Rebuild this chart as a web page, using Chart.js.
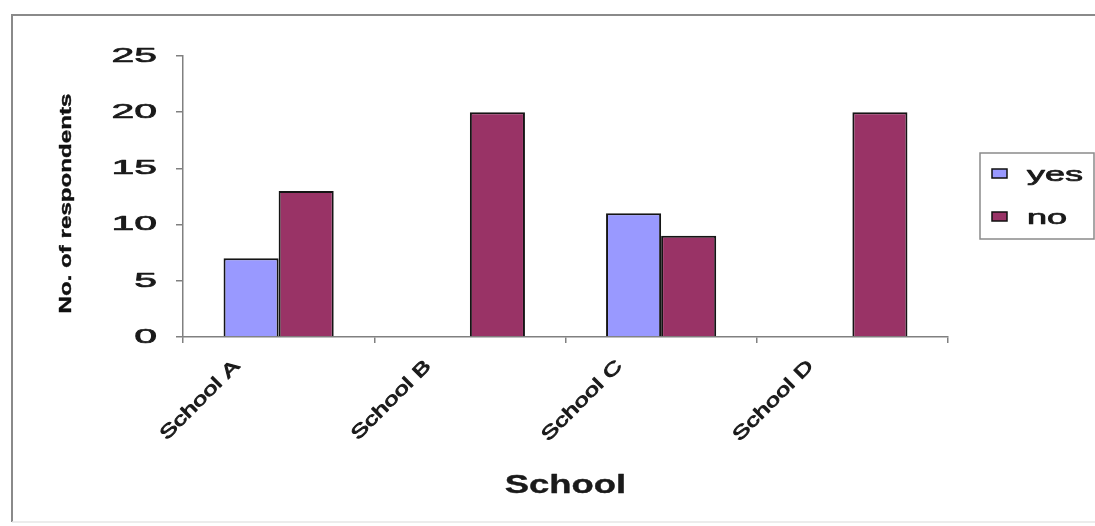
<!DOCTYPE html>
<html>
<head>
<meta charset="utf-8">
<script src="https://cdn.jsdelivr.net/npm/chart.js@4.4.0/dist/chart.umd.min.js"></script>
<style>
  html, body { margin: 0; padding: 0; background: #fff; }
  #wrap { width: 1095px; height: 526px; position: relative; }
</style>
</head>
<body>
<div id="wrap"><canvas id="c" width="1095" height="526"></canvas></div>
<script>
const categories = ["School A", "School B", "School C", "School D"];
const yesValues = [7, 0, 11, 0];
const noValues = [13, 20, 9, 20];
const seriesNames = ["yes", "no"];
const yTitle = "No. of respondents";
const xTitle = "School";

const FONT = '"Liberation Sans", Arial, sans-serif';

function stretchedText(ctx, text, x, y, angle, sx, font, align, baseline, color, thick) {
  ctx.save();
  ctx.translate(x, y);
  ctx.rotate(angle);
  ctx.scale(sx, 1);
  ctx.font = font;
  ctx.textAlign = align;
  ctx.textBaseline = baseline;
  ctx.fillStyle = color || '#111';
  ctx.fillText(text, 0, 0);
  if (thick) {
    ctx.strokeStyle = color || '#111';
    ctx.lineWidth = thick;
    ctx.lineJoin = 'round';
    ctx.strokeText(text, 0, 0);
  }
  ctx.restore();
}

const framePlugin = {
  id: 'frame',
  beforeDraw(chart) {
    const ctx = chart.ctx;
    ctx.save();
    ctx.fillStyle = '#fff';
    ctx.fillRect(0, 0, chart.width, chart.height);
    ctx.strokeStyle = '#8a8a8a';
    ctx.lineWidth = 2;
    ctx.beginPath();
    ctx.moveTo(12, 522);
    ctx.lineTo(12, 15);
    ctx.lineTo(1100, 15);
    ctx.stroke();
    ctx.strokeStyle = '#e6e6e6';
    ctx.lineWidth = 1.5;
    ctx.beginPath();
    ctx.moveTo(12, 522);
    ctx.lineTo(1100, 522);
    ctx.stroke();
    ctx.restore();
  },
  afterDraw(chart) {
    const ctx = chart.ctx;
    const xs = chart.scales.x, ys = chart.scales.y;
    ys.ticks.forEach((t, i) => {
      const py = ys.getPixelForTick(i);
      stretchedText(ctx, String(t.value), 157, py, 0, 1.95, '21px ' + FONT, 'right', 'middle', '#1a1a1a', 0.7);
    });
    chart.data.labels.forEach((lab, i) => {
      const px = xs.getPixelForValue(i);
      stretchedText(ctx, lab, px - 38, ys.bottom + 30, -Math.PI / 4, 1.45, '18px ' + FONT, 'right', 'alphabetic', '#1a1a1a', 0.9);
    });
    stretchedText(ctx, yTitle, 71, (ys.top + ys.bottom) / 2 + 7, -Math.PI / 2, 1.42, 'bold 17px ' + FONT, 'center', 'alphabetic', '#111', 0.4);
    stretchedText(ctx, xTitle, (xs.left + xs.right) / 2, 493, 0, 1.4, 'bold 26px ' + FONT, 'center', 'alphabetic', '#1a1a1a', 0.4);
    ctx.save();
    ctx.strokeStyle = '#8a8a8a';
    ctx.lineWidth = 1.5;
    ctx.strokeRect(980, 153, 114, 86);
    ctx.restore();
    chart.data.datasets.forEach((ds, i) => {
      const cy = 173 + i * 43;
      ctx.save();
      ctx.fillStyle = ds.backgroundColor;
      ctx.strokeStyle = '#111';
      ctx.lineWidth = 1.5;
      ctx.fillRect(992, cy - 4, 15, 9);
      ctx.strokeRect(992, cy - 4, 15, 9);
      ctx.restore();
      stretchedText(ctx, ds.label, 1027, cy + 8, 0, 1.8, '20px ' + FONT, 'left', 'alphabetic', '#1a1a1a', 0.7);
    });
  }
};

new Chart(document.getElementById('c'), {
  type: 'bar',
  data: {
    labels: categories,
    datasets: [
      { label: seriesNames[0], data: yesValues, backgroundColor: '#9999FF', borderColor: '#151515', borderWidth: 2, borderSkipped: 'bottom' },
      { label: seriesNames[1], data: noValues, backgroundColor: '#993366', borderColor: '#151515', borderWidth: 2, borderSkipped: 'bottom' }
    ]
  },
  options: {
    responsive: false,
    animation: false,
    devicePixelRatio: 1,
    layout: { padding: { left: 0, top: 56, right: 147, bottom: 0 } },
    datasets: { bar: { categoryPercentage: 0.576, barPercentage: 1.0 } },
    plugins: { legend: { display: false }, tooltip: { enabled: false }, title: { display: false } },
    scales: {
      x: {
        offset: true,
        ticks: { display: false },
        grid: { offset: true, color: 'rgba(0,0,0,0)', tickColor: '#808080', tickLength: 6, lineWidth: 1.5, drawOnChartArea: false },
        border: { color: '#808080', width: 1.5 },
        afterFit(s) { s.height = 526 - 337; }
      },
      y: {
        min: 0, max: 25,
        ticks: { display: false, stepSize: 5 },
        grid: { color: 'rgba(0,0,0,0)', tickColor: '#808080', tickLength: 7, lineWidth: 1.5, drawOnChartArea: false },
        border: { color: '#808080', width: 1.5 },
        afterFit(s) { s.width = 183; }
      }
    }
  },
  plugins: [framePlugin]
});
</script>
</body>
</html>
